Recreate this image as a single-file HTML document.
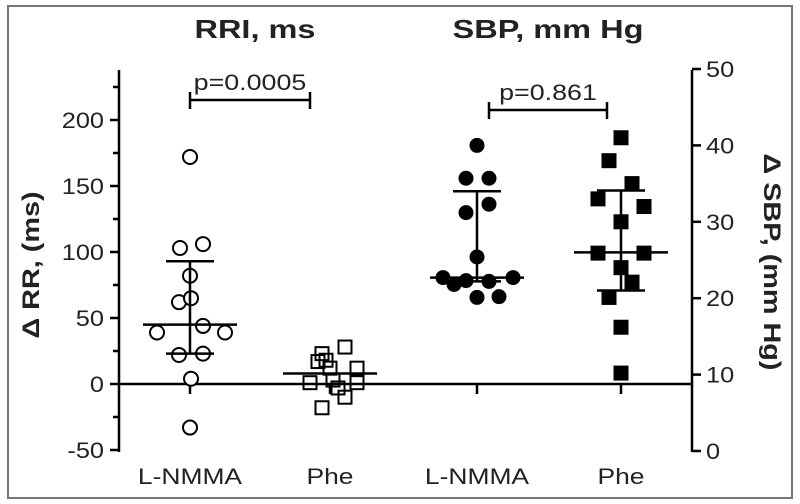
<!DOCTYPE html>
<html><head><meta charset="utf-8"><style>
html,body{margin:0;padding:0;background:#fff}
svg{display:block;font-family:"Liberation Sans",sans-serif}
</style></head><body>
<svg id="c" width="800" height="504" viewBox="0 0 800 504">
<rect x="8" y="6" width="784" height="492" fill="none" stroke="#777" stroke-width="2"/>
<g id="g"></g>
</svg>
<script>
const leftTicks=[-50,0,50,100,150,200];
const leftMinor=[-25,25,75,125,175,225];
const rightTicks=[0,10,20,30,40,50];
const categories=["L-NMMA","Phe","L-NMMA","Phe"];
const rriLnmma=[172,103,106,82,62,65,39,44,39,22,23,4,-33];
const rriPhe=[23,28,17,18,12,12,1,3,1,-3,-10,-18];
const sbpLnmma=[40,35.7,35.7,31.2,32.3,25.4,22.7,21.8,22.3,22.2,22.7,20.1,20.2];
const sbpPhe=[41,38,35,33,32,30,25.9,25.9,24,22.1,20.1,16.2,10.2];
const rriLnmmaStats=[45,93,23];
const rriPheStats=[8];
const sbpLnmmaStats=[22.7,34,22.2];
const sbpPheStats=[26,34.1,21];
const pValues=["p=0.0005","p=0.861"];
const yL=v=>384-(v*1.32);
const yR=v=>451-v*7.64;
const g=document.getElementById('g');
const NS='http://www.w3.org/2000/svg';
function mk(t,a,txt){const e=document.createElementNS(NS,t);for(const k in a)e.setAttribute(k,a[k]);if(txt!==undefined)e.textContent=txt;g.appendChild(e);return e;}
function ln(x1,y1,x2,y2,w){return mk('line',{x1,y1,x2,y2,stroke:'#000','stroke-width':w||2.5});}
function widen(t,k){const w=t.getComputedTextLength();t.setAttribute('textLength',(w*k).toFixed(1));t.setAttribute('lengthAdjust','spacingAndGlyphs');}
// left axis
let e=ln(119,70,119,452);


leftTicks.forEach(v=>{ln(110,yL(v),119,yL(v));
 const t=mk('text',{x:104,y:yL(v)+8,'text-anchor':'end','font-size':22,fill:'#222'},String(v));
 
 
 widen(t,1.15);});
leftMinor.forEach(v=>ln(113,yL(v),119,yL(v)));
// right axis
e=ln(692,70,692,452);


rightTicks.forEach(v=>{ln(692,yR(v),701,yR(v));
 const t=mk('text',{x:706,y:yR(v)+8,'font-size':22,fill:'#222'},String(v));
 
 
 widen(t,1.15);});
// zero line
e=ln(119,384,692,384);


const cx=[190,330,477,621];
categories.forEach((c,i)=>{ln(cx[i],384,cx[i],394);
 const t=mk('text',{x:cx[i],y:484,'text-anchor':'middle','font-size':22,fill:'#222'},c);
 
 
 widen(t,1.2);});
const jL=[0,-10,13,0,-11,1,-33,13,35,-11,13,1,0];
const jP=[-8,15,-12,-4,0,27,-20,3,27,8,15,-8];
const jS=[0,-11,12,-11,12,0,-34,-23,-11,12,36,0,22];
const jQ=[0,-12,11,-23,23,0,-23,23,0,11,-12,0,0];
rriLnmma.forEach((v,i)=>{const c=mk('circle',{cx:cx[0]+jL[i],cy:yL(v),r:7,fill:'#fff',stroke:'#000','stroke-width':2});
 });
rriPhe.forEach((v,i)=>{const c=mk('rect',{x:cx[1]+jP[i]-6.5,y:yL(v)-6.5,width:13,height:13,fill:'none',stroke:'#000','stroke-width':2});
 });
sbpLnmma.forEach((v,i)=>{const c=mk('circle',{cx:cx[2]+jS[i],cy:yR(v),r:7.5,fill:'#000'});
 });
sbpPhe.forEach((v,i)=>{const c=mk('rect',{x:cx[3]+jQ[i]-7.5,y:yR(v)-7.5,width:15,height:15,fill:'#000'});
 });
function stats(x,s,f,mw,ww){ln(x-mw,f(s[0]),x+mw,f(s[0]));
 if(s.length>1){ln(x,f(s[1]),x,f(s[2]));ln(x-ww,f(s[1]),x+ww,f(s[1]));ln(x-ww,f(s[2]),x+ww,f(s[2]));}}
stats(cx[0],rriLnmmaStats,yL,47,24);
stats(cx[1],rriPheStats,yL,47,24);
stats(cx[2],sbpLnmmaStats,yR,47,24);
stats(cx[3],sbpPheStats,yR,47,24);
function br(x1,x2,y,txt){ln(x1,y,x2,y);ln(x1,y-8,x1,y+9);ln(x2,y-8,x2,y+9);
 const t=mk('text',{x:(x1+x2)/2,y:y-10,'text-anchor':'middle','font-size':22,fill:'#222'},txt);
 
 widen(t,1.22);}
br(190,310,100,pValues[0]);
br(489,607,110,pValues[1]);
let t=mk('text',{x:255,y:38,'text-anchor':'middle','font-size':26,'font-weight':'bold',fill:'#222'},'RRI, ms');

widen(t,1.25);
t=mk('text',{x:548,y:38,'text-anchor':'middle','font-size':26,'font-weight':'bold',fill:'#222'},'SBP, mm Hg');

widen(t,1.25);
t=mk('text',{x:0,y:0,'text-anchor':'middle','font-size':24,'font-weight':'bold',fill:'#222',transform:'translate(39,265) rotate(-90)'},'\u0394 RR, (ms)');

widen(t,1.2);
t=mk('text',{x:0,y:0,'text-anchor':'middle','font-size':24,'font-weight':'bold',fill:'#222',transform:'translate(764,262) rotate(90)'},'\u0394 SBP, (mm Hg)');

widen(t,1.2);
</script>
</body></html>
